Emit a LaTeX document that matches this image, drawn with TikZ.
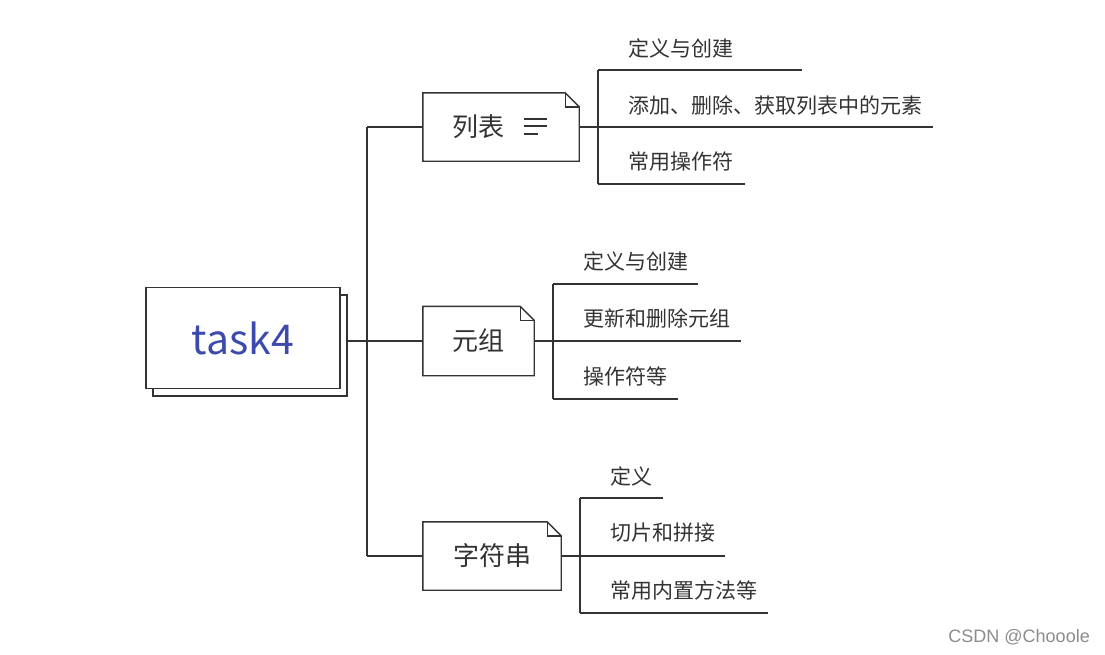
\documentclass[tikz,border=0pt]{standalone}
\usepackage{fontspec}
\setmainfont{Noto Sans CJK SC}
\newfontfamily\wmfont{Liberation Sans}
\usetikzlibrary{calc}
\definecolor{ink}{HTML}{333333}
\definecolor{rootblue}{HTML}{3C4AAE}
\tikzset{
  x=1pt, y=-1pt,
  conn/.style={draw=ink, line width=1.2pt},
  boxline/.style={draw=ink, line width=1.4pt},
  topicbox/.style={inner sep=0pt, font=\fontsize{26}{31}\selectfont, text=ink},
  leaftext/.style={anchor=west, inner sep=0pt, font=\fontsize{21}{25}\selectfont, text=ink},
}
\newcommand{\foldbox}[2]{%
  \fill[white] (#1.north west) -- ($(#1.north east)+(-#2,0)$) -- ($(#1.north east)+(0,#2)$) -- (#1.south east) -- (#1.south west) -- cycle;
  \draw[boxline] (#1.north west) -- ($(#1.north east)+(-#2,0)$) -- ($(#1.north east)+(0,#2)$) -- (#1.south east) -- (#1.south west) -- cycle;
  \draw[boxline, line join=miter] ($(#1.north east)+(-#2,0)$) -- ($(#1.north east)+(-#2,#2)$) -- ($(#1.north east)+(0,#2)$);
}
\begin{document}
\begin{tikzpicture}
\useasboundingbox (0,0) rectangle (1105,654);
\fill[white] (0,0) rectangle (1105,654);

% root
\node[draw=ink, line width=1.4pt, fill=white, minimum width=194pt, minimum height=101pt, inner sep=0pt] (rootback) at (250,345.5) {};
\node[draw=ink, line width=1.4pt, fill=white, minimum width=194pt, minimum height=101pt, inner sep=0pt,
      font=\fontsize{41}{48}\selectfont, text=rootblue] (root) at (243,338) {task4};

% trunk
\coordinate (tr) at (367,341);
\coordinate (ttop) at (367,127);
\coordinate (tbot) at (367,556);

% topic boxes
\node[topicbox, minimum width=156pt, minimum height=68pt] (list) at (501,127) {};
\node[topicbox, minimum width=111pt, minimum height=69pt] (tuple) at (478.5,341) {};
\node[topicbox, minimum width=138pt, minimum height=68pt] (str) at (492,556) {};

\draw[conn] (rootback.east |- tr) -- (tr);
\draw[conn] (ttop) -- (tbot);
\draw[conn] (ttop) -- (list.west);
\draw[conn] (tr) -- (tuple.west);
\draw[conn] (tbot) -- (str.west);

\foldbox{list}{14}
\foldbox{tuple}{14}
\foldbox{str}{14}

\node[topicbox] (listlabel) at (478,127) {列表};
\node[topicbox] (tuplelabel) at (478,341) {元组};
\node[topicbox] (strlabel) at (492,556) {字符串};

% list icon
\coordinate (ic1a) at (524,119); \coordinate (ic1b) at (547,119);
\coordinate (ic2a) at (524,126); \coordinate (ic2b) at (547,126);
\coordinate (ic3a) at (524,134); \coordinate (ic3b) at (538,134);
\draw[ink, line width=1.3pt] (ic1a) -- (ic1b);
\draw[ink, line width=1.3pt] (ic2a) -- (ic2b);
\draw[ink, line width=1.8pt] (ic3a) -- (ic3b);

% list children
\coordinate (lb) at (598,127);
\coordinate (lt) at (598,70);
\coordinate (lbot) at (598,184);
\coordinate (l1e) at (802,70);
\coordinate (l2e) at (933,127);
\coordinate (l3e) at (745,184);
\draw[conn] (list.east) -- (lb);
\draw[conn] (lt) -- (lbot);
\draw[conn] (lt) -- (l1e);
\draw[conn] (lb) -- (l2e);
\draw[conn] (lbot) -- (l3e);
\node[leaftext] (l1) at (628,48) {定义与创建};
\node[leaftext] (l2) at (628,105) {添加、删除、获取列表中的元素};
\node[leaftext] (l3) at (628,162) {常用操作符};

% tuple children
\coordinate (tb) at (553,341);
\coordinate (tt) at (553,284);
\coordinate (tbo) at (553,399);
\coordinate (t1e) at (698,284);
\coordinate (t2e) at (741,341);
\coordinate (t3e) at (678,399);
\draw[conn] (tuple.east) -- (tb);
\draw[conn] (tt) -- (tbo);
\draw[conn] (tt) -- (t1e);
\draw[conn] (tb) -- (t2e);
\draw[conn] (tbo) -- (t3e);
\node[leaftext] (t1) at (583,261) {定义与创建};
\node[leaftext] (t2) at (583,318) {更新和删除元组};
\node[leaftext] (t3) at (583,376) {操作符等};

% string children
\coordinate (sb) at (580,556);
\coordinate (st) at (580,498);
\coordinate (sbo) at (580,613);
\coordinate (s1e) at (663,498);
\coordinate (s2e) at (725,556);
\coordinate (s3e) at (768,613);
\draw[conn] (str.east) -- (sb);
\draw[conn] (st) -- (sbo);
\draw[conn] (st) -- (s1e);
\draw[conn] (sb) -- (s2e);
\draw[conn] (sbo) -- (s3e);
\node[leaftext] (s1) at (610,476) {定义};
\node[leaftext] (s2) at (610,533) {切片和拼接};
\node[leaftext] (s3) at (610,590) {常用内置方法等};

% watermark
\node[anchor=east, inner sep=0pt, font=\wmfont\fontsize{18}{21}\selectfont, text=black!45] (wm) at (1090,637) {CSDN @Chooole};
\end{tikzpicture}
\end{document}
